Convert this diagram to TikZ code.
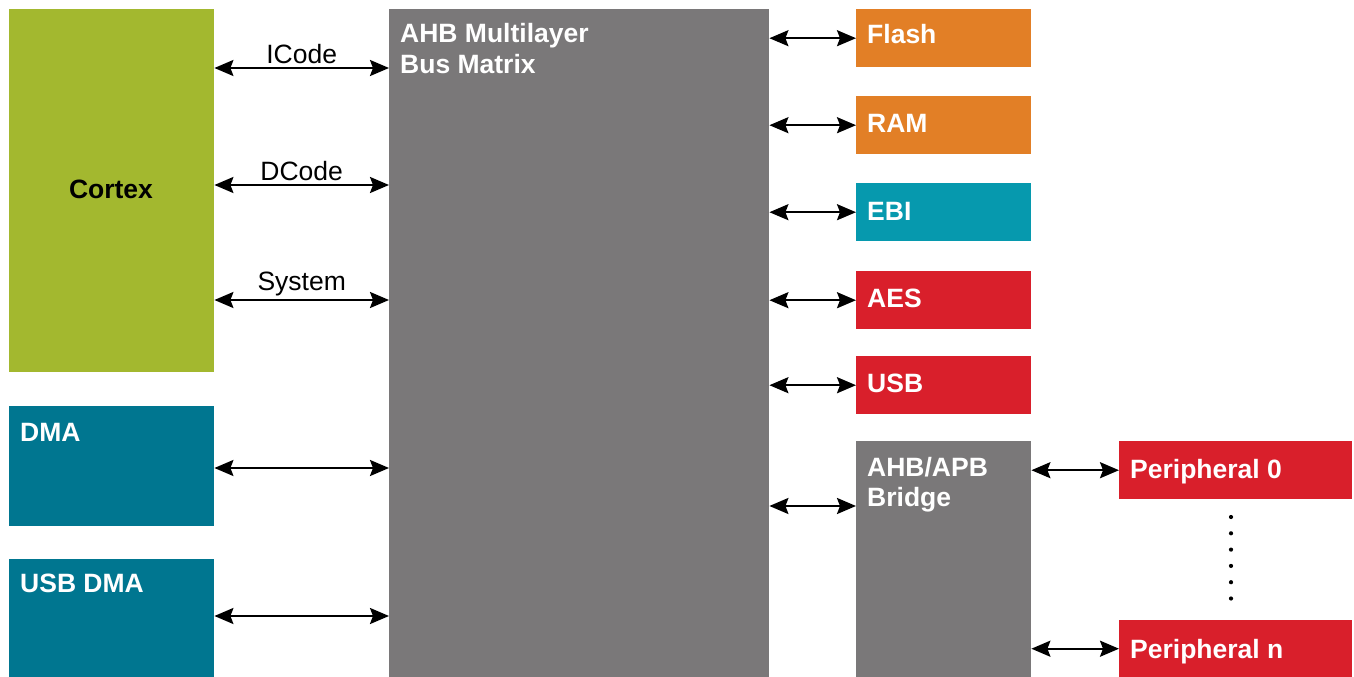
\documentclass[tikz,border=0pt]{standalone}
\usepackage{fontspec}
\setmainfont{Liberation Sans}
\usetikzlibrary{arrows.meta}
\definecolor{cortexgreen}{HTML}{A3B82F}
\definecolor{dmateal}{HTML}{007690}
\definecolor{ebiteal}{HTML}{0699AE}
\definecolor{flashorange}{HTML}{E27F26}
\definecolor{periphred}{HTML}{D91F2B}
\definecolor{busgray}{HTML}{7A7879}
\tikzset{
  blk/.style={fill=#1, draw=none, anchor=north west, inner sep=0pt},
  lbl/.style={anchor=base west, text=white, font=\fontsize{26.5}{30}\selectfont\bfseries, inner sep=0pt},
  bus/.style={line width=2.2pt, {Stealth[length=19pt,width=16pt,inset=3pt]}-{Stealth[length=19pt,width=16pt,inset=3pt]}},
  buslbl/.style={font=\fontsize{26.5}{30}\selectfont, inner sep=0pt, anchor=base},
}
\begin{document}
\begin{tikzpicture}[x=1pt,y=-1pt]
\useasboundingbox (0,0) rectangle (1354,677);
% boxes
\node[blk=cortexgreen, minimum width=205pt, minimum height=363pt] (cortex) at (9,9) {};
\node[blk=dmateal, minimum width=205pt, minimum height=120pt] (dma) at (9,406) {};
\node[blk=dmateal, minimum width=205pt, minimum height=118pt] (usbdma) at (9,559) {};
\node[blk=busgray, minimum width=380pt, minimum height=668pt] (matrix) at (389,9) {};
\node[blk=flashorange, minimum width=175pt, minimum height=58pt] (flash) at (856,9) {};
\node[blk=flashorange, minimum width=175pt, minimum height=58pt] (ram) at (856,96) {};
\node[blk=ebiteal, minimum width=175pt, minimum height=58pt] (ebi) at (856,183) {};
\node[blk=periphred, minimum width=175pt, minimum height=58pt] (aes) at (856,271) {};
\node[blk=periphred, minimum width=175pt, minimum height=58pt] (usb) at (856,356) {};
\node[blk=busgray, minimum width=175pt, minimum height=236pt] (bridge) at (856,441) {};
\node[blk=periphred, minimum width=233pt, minimum height=58pt] (p0) at (1119,441) {};
\node[blk=periphred, minimum width=233pt, minimum height=57pt] (pn) at (1119,620) {};
% labels
\node[font=\fontsize{26.5}{30}\selectfont\bfseries, text=black, inner sep=0pt, anchor=base] (cortexlbl) at (111,198) {Cortex};
\node[lbl] (dmalbl) at (20,441) {DMA};
\node[lbl] (usbdmalbl) at (20,592) {USB DMA};
\node[lbl] (matrixlbl1) at (400,43) {AHB Multilayer};
\node[lbl] (matrixlbl2) at (400,74) {Bus Matrix};
\node[lbl] (flashlbl) at (867,44) {Flash};
\node[lbl] (ramlbl) at (867,132) {RAM};
\node[lbl] (ebilbl) at (867,220) {EBI};
\node[lbl] (aeslbl) at (867,307) {AES};
\node[lbl] (usblbl) at (867,392) {USB};
\node[lbl] (bridgelbl1) at (867,476) {AHB/APB};
\node[lbl] (bridgelbl2) at (867,506) {Bridge};
\node[lbl] (p0lbl) at (1130,478) {Peripheral 0};
\node[lbl] (pnlbl) at (1130,658) {Peripheral n};
% left connectors
\coordinate (yI) at (0,68);
\coordinate (yD) at (0,185);
\coordinate (yS) at (0,300);
\coordinate (yM) at (0,468);
\coordinate (yU) at (0,616);
\draw[bus] (cortex.east |- yI) -- node[buslbl, above=3pt] {ICode} (matrix.west |- yI);
\draw[bus] (cortex.east |- yD) -- node[buslbl, above=3pt] {DCode} (matrix.west |- yD);
\draw[bus] (cortex.east |- yS) -- node[buslbl, above=3pt] {System} (matrix.west |- yS);
\draw[bus] (dma.east |- yM) -- (matrix.west |- yM);
\draw[bus] (usbdma.east |- yU) -- (matrix.west |- yU);
% right connectors
\draw[bus] (matrix.east |- flash.west) -- (flash.west);
\draw[bus] (matrix.east |- ram.west) -- (ram.west);
\draw[bus] (matrix.east |- ebi.west) -- (ebi.west);
\draw[bus] (matrix.east |- aes.west) -- (aes.west);
\draw[bus] (matrix.east |- usb.west) -- (usb.west);
\coordinate (yB) at (0,506);
\draw[bus] (matrix.east |- yB) -- (bridge.west |- yB);
\draw[bus] (bridge.east |- p0.west) -- (p0.west);
\draw[bus] (bridge.east |- pn.west) -- (pn.west);
% dots
\foreach \i in {0,...,5} {
  \fill (1231,517+16.3*\i) circle (2.1pt);
}
\end{tikzpicture}
\end{document}
